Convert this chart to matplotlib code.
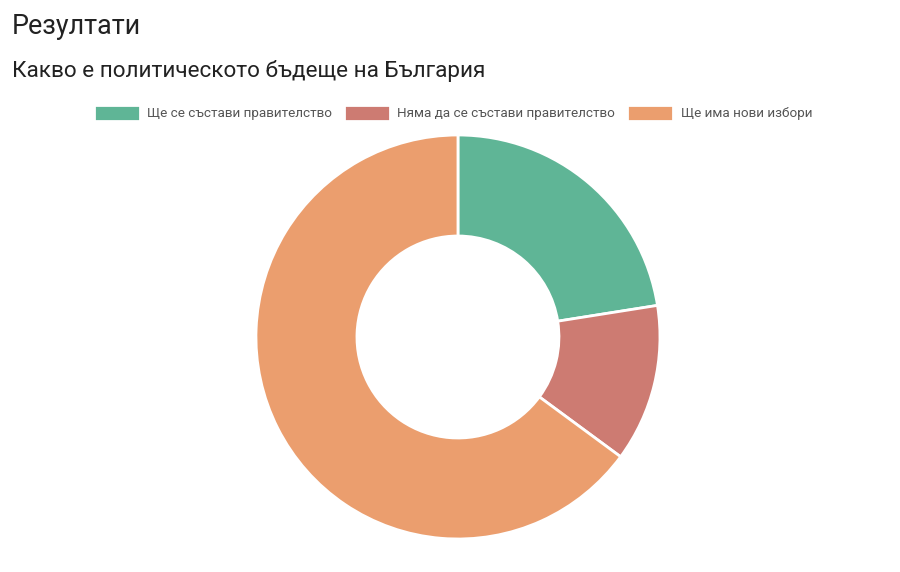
import matplotlib.pyplot as plt

plt.rcParams['font.family'] = ['Roboto', 'DejaVu Sans']

# data
labels = ['Ще се състави правителство', 'Няма да се състави правителство', 'Ще има нови избори']
values = [22.5, 12.6, 64.9]
colors = ['#5fb596', '#cd7b72', '#eb9e6e']

fig = plt.figure(figsize=(9, 5.72), dpi=100)
fig.patch.set_facecolor('white')

ax = fig.add_axes([0.2844, 0.0577, 0.4489, 0.7063])
wedges, _ = ax.pie(values, colors=colors, startangle=90, counterclock=False,
                   radius=1.0, wedgeprops=dict(width=0.5, edgecolor='white', linewidth=2))
ax.set_xlim(-1, 1)
ax.set_ylim(-1, 1)
ax.set_aspect('auto')
ax.axis('off')

fig.text(12 / 900, 1 - 26 / 572, 'Резултати', fontsize=19.4, color='#222222', va='center', ha='left')
fig.text(12 / 900, 1 - 71 / 572, 'Какво е политическото бъдеще на България', fontsize=16.2,
         color='#222222', va='center', ha='left')

fig.legend(wedges, labels, loc='center', bbox_to_anchor=(453 / 900, 1 - 113 / 572), ncol=3,
           frameon=False, fontsize=9.7, handlelength=3.4, handleheight=1.4, handletextpad=0.55,
           columnspacing=0.9, labelcolor='#555555')

fig.savefig('out.png', dpi=100, facecolor='white')
